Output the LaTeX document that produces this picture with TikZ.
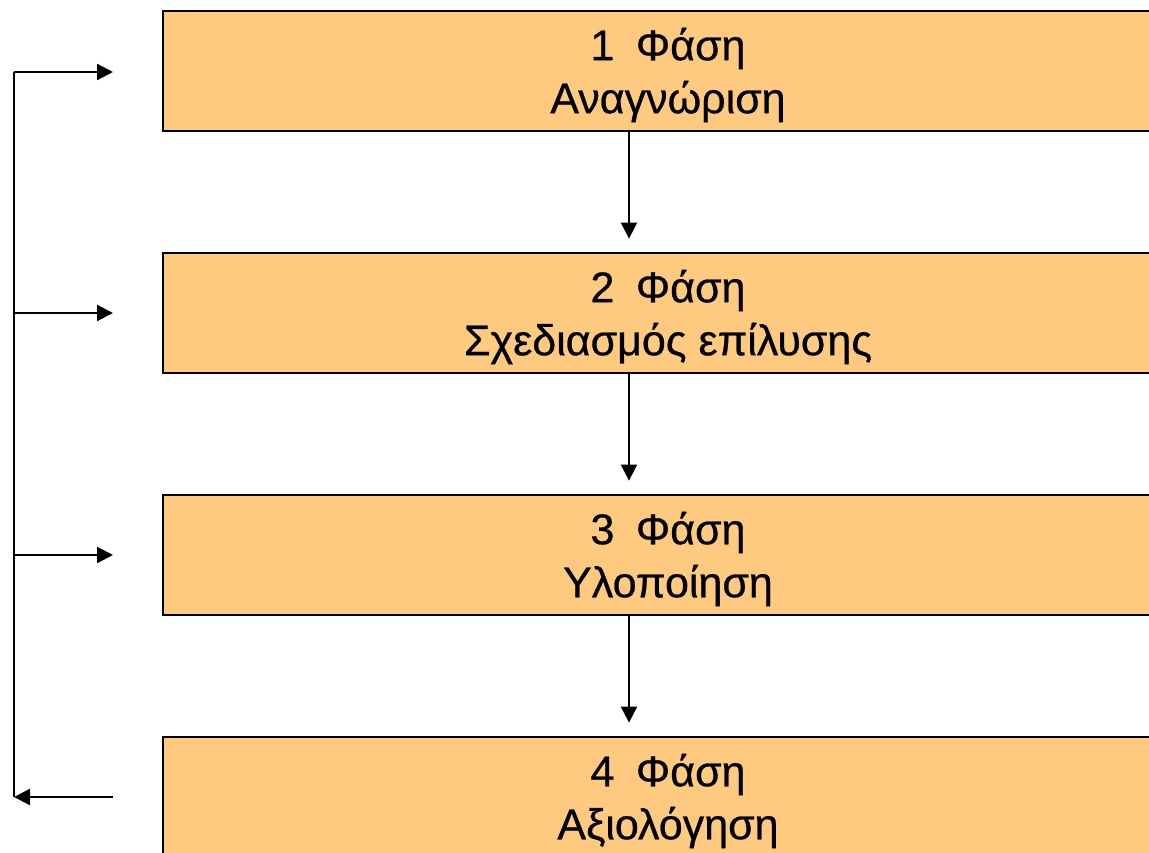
\documentclass[tikz,border=0pt]{standalone}
\usepackage{fontspec}
\setmainfont{Liberation Sans}
\newfontfamily\phasefont{Liberation Sans}[FakeBold=0.6]
\usetikzlibrary{arrows.meta}
\definecolor{boxfill}{RGB}{254,202,128}
\begin{document}
\begin{tikzpicture}[x=1pt,y=-1pt,
  phasebox/.style={draw=black, line width=2.8pt, fill=boxfill, minimum width=1010pt, minimum height=120pt,
    inner sep=0pt},
  phasetext/.style={align=center, inner sep=0pt, font=\phasefont\fontsize{43}{53}\selectfont},
  arr/.style={line width=2.2pt, -{Triangle[length=16pt,width=16pt]}},
  feed/.style={line width=2.2pt}]
\useasboundingbox (0,0) rectangle (1149,853);
\clip (0,0) rectangle (1149,853);
\node[phasebox, label={[phasetext,yshift=-4pt,name=t1]center:1\hspace{0.5em}Φάση\\Αναγνώριση}] (b1) at (668,71) {};
\node[phasebox, label={[phasetext,yshift=-4pt,name=t2]center:2\hspace{0.5em}Φάση\\Σχεδιασμός επίλυσης}] (b2) at (668,313) {};
\node[phasebox, label={[phasetext,yshift=-4pt,name=t3]center:3\hspace{0.5em}Φάση\\Υλοποίηση}] (b3) at (668,555) {};
\node[phasebox, label={[phasetext,yshift=-4pt,name=t4]center:4\hspace{0.5em}Φάση\\Αξιολόγηση}] (b4) at (668,797) {};
\coordinate (ax) at (629,0);
\draw[arr] (b1.south -| ax) -- ([yshift=13pt]b2.north -| ax);
\draw[arr] (b2.south -| ax) -- ([yshift=13pt]b3.north -| ax);
\draw[arr] (b3.south -| ax) -- ([yshift=13pt]b4.north -| ax);
\coordinate (l1) at (14,72);
\coordinate (l2) at (14,313);
\coordinate (l3) at (14,555);
\coordinate (l4) at (14,797);
\coordinate (e1) at (113,72);
\coordinate (e2) at (113,313);
\coordinate (e3) at (113,555);
\coordinate (e4) at (113,797);
\draw[feed] (l4) -- (l1);
\draw[arr] (l1) -- (e1);
\draw[arr] (l2) -- (e2);
\draw[arr] (l3) -- (e3);
\draw[arr] (e4) -- (l4);
\end{tikzpicture}
\end{document}
